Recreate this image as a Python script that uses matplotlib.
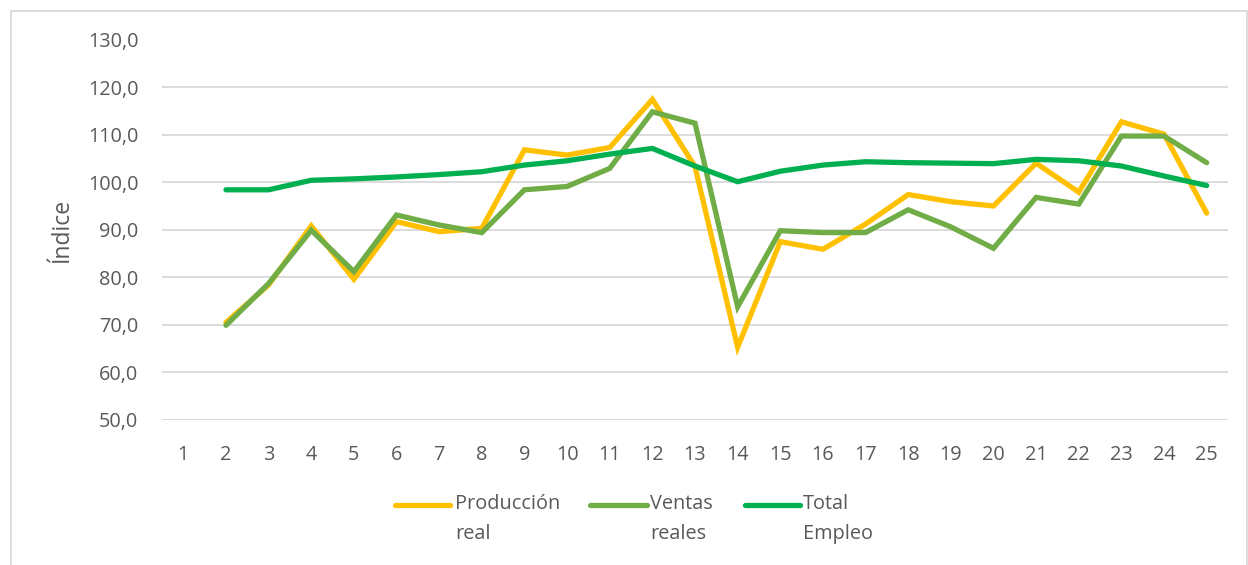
import matplotlib
matplotlib.use("Agg")
import matplotlib.pyplot as plt
from matplotlib.lines import Line2D
from matplotlib.patches import Rectangle
from matplotlib.ticker import FuncFormatter

plt.rcParams['font.family'] = ['Open Sans', 'DejaVu Sans']

periods = list(range(1, 26))
produccion = [None, 70.5, 78.4, 90.8, 79.6, 91.7, 89.6, 90.3, 106.8, 105.7, 107.3, 117.4,
              103.3, 65.3, 87.5, 85.9, 91.2, 97.4, 95.9, 95.0, 104.0, 97.9, 112.7, 110.1, 93.5]
ventas = [None, 69.9, 78.7, 89.9, 81.2, 93.1, 91.0, 89.4, 98.4, 99.1, 102.9, 114.8,
          112.4, 73.8, 89.8, 89.4, 89.4, 94.2, 90.6, 86.1, 96.8, 95.4, 109.7, 109.7, 104.1]
empleo = [None, 98.4, 98.4, 100.4, 100.7, 101.1, 101.6, 102.2, 103.6, 104.5, 105.9, 107.1,
          103.4, 100.1, 102.3, 103.6, 104.3, 104.1, 104.0, 103.9, 104.8, 104.5, 103.4, 101.3, 99.3]
series_names = ["Producción\nreal", "Ventas\nreales", "Total\nEmpleo"]
colors = ["#FFC000", "#70AD47", "#00B050"]
y_label = "Índice"

W, H = 1248, 565
fig = plt.figure(figsize=(W / 100, H / 100), dpi=100)
fig.patch.set_facecolor("white")
fig.add_artist(Rectangle((10.5 / W, -0.05), (W - 12) / W, (H - 10.5) / H + 0.05, transform=fig.transFigure,
                         fill=False, edgecolor="#D9D9D9", linewidth=1.3))

ax = fig.add_axes([162 / W, 1 - 420 / H, (1228 - 162) / W, (420 - 39.5) / H])


def clean(vals):
    xs = [p for p, v in zip(periods, vals) if v is not None]
    ys = [v for v in vals if v is not None]
    return xs, ys


for vals, c in zip([produccion, ventas, empleo], colors):
    xs, ys = clean(vals)
    ax.plot(xs, ys, color=c, linewidth=3.8, solid_capstyle="round", solid_joinstyle="miter", zorder=3)

ax.set_xlim(0.5, 25.5)
ax.set_ylim(50, 130)
ax.set_yticks(range(50, 131, 10))
ax.yaxis.set_major_formatter(FuncFormatter(lambda v, p: f"{v:.1f}".replace(".", ",")))
ax.set_xticks(periods)
ax.set_xticklabels([str(p) for p in periods])
ax.grid(axis="y", color="#D9D9D9", linewidth=1.3, zorder=0)
ax.grid(axis="x", visible=False)
for s in ax.spines.values():
    s.set_visible(False)
ax.tick_params(axis="both", length=0, labelsize=14.3, labelcolor="#595959")
ax.tick_params(axis="y", pad=17)
ax.tick_params(axis="x", pad=18)
ax.set_ylabel(y_label, fontsize=16.5, color="#595959", labelpad=10)

# legend (manual, handle aligned with first text line)
leg_items = [(395, 450, 455), (590, 647, 650), (745, 800, 803)]
for (x0, x1, xt), name, c in zip(leg_items, series_names, colors):
    fig.add_artist(Line2D([x0 / W, x1 / W], [1 - 505 / H, 1 - 505 / H], transform=fig.transFigure,
                          color=c, linewidth=3.8, solid_capstyle="round"))
    fig.text(xt / W, 1 - 494 / H, name, fontsize=14.3, color="#595959", va="top", ha="left",
             linespacing=1.65)

fig.savefig("out.png", dpi=100)
